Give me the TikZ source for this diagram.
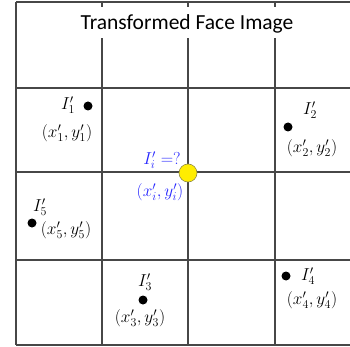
\documentclass[tikz,border=0pt]{standalone}
\usepackage{fontspec}
\newfontfamily\titlefont{Carlito}
\begin{document}
\begin{tikzpicture}[x=1pt,y=-1pt,
  gridline/.style={draw=black!72,line width=1.6pt},
  lbl/.style={inner sep=0pt,font=\fontsize{17}{18}\selectfont},
  blbl/.style={lbl,text=blue!85!white},
  dotc/.style={circle,fill=black,inner sep=0pt,minimum size=9pt}]
\useasboundingbox (0,0) rectangle (350,347);
% grid
\draw[gridline] (16,2) -- (350,2);
\foreach \y in {88,172,260,345} \draw[gridline] (16,\y) -- (350,\y);
\draw[gridline] (16,2) -- (16,345);
\foreach \x in {102,188,275} \draw[gridline] (\x,2) -- (\x,345);
% title
\node[fill=white,inner xsep=1pt,text height=17pt,text depth=3pt,inner ysep=0pt,minimum height=31pt,font=\titlefont\fontsize{21.5}{24}\selectfont] (title) at (187,23) {Transformed Face Image};
% points
\node[dotc] (p1) at (88,106) {};
\node[lbl] (l1) at (68,105) {$I'_1$};
\node[lbl] (c1) at (67,133) {$(x'_1,y'_1)$};
\node[dotc] (p2) at (288,127) {};
\node[lbl] (l2) at (310,110) {$I'_2$};
\node[lbl] (c2) at (312,148) {$(x'_2,y'_2)$};
\node[dotc] (p3) at (143,300) {};
\node[lbl] (l3) at (145,282) {$I'_3$};
\node[lbl] (c3) at (140,318) {$(x'_3,y'_3)$};
\node[dotc] (p4) at (286,276) {};
\node[lbl] (l4) at (308,276) {$I'_4$};
\node[lbl] (c4) at (312,300) {$(x'_4,y'_4)$};
\node[dotc] (p5) at (32,223) {};
\node[lbl] (l5) at (40,207) {$I'_5$};
\node[lbl] (c5) at (66,230) {$(x'_5,y'_5)$};
% interpolated point
\node[circle,fill=yellow!95!orange,draw=black!50!yellow,line width=0.6pt,inner sep=0pt,minimum size=18pt] (pi) at (188,173) {};
\node[blbl] (li) at (162,160) {$I'_i=?$};
\node[blbl] (ci) at (160,192) {$(x'_i,y'_i)$};
\end{tikzpicture}
\end{document}
